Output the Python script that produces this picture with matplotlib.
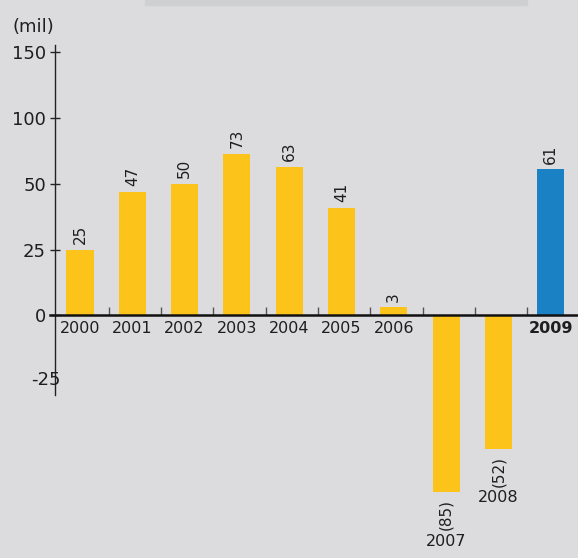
import numpy as np
import matplotlib
matplotlib.use("Agg")
import matplotlib.pyplot as plt
from matplotlib.patches import Rectangle

# ---- data ----
years = ["2000", "2001", "2002", "2003", "2004", "2005", "2006", "2007", "2008", "2009"]
values = [25, 47, 50, 73, 63, 41, 3, -85, -52, 61]
value_labels = ["25", "47", "50", "73", "63", "41", "3", "(85)", "(52)", "61"]
ytick_vals = [150, 100, 50, 25, 0]
ytick_labels = ["150", "100", "50", "25", "0"]
unit_label = "(mil)"

# ---- style ----
BG = "#DCDCDE"
YELLOW = "#FCC31B"
BLUE = "#1A82C4"
TXT = "#1E1E1E"
FONT = "DejaVu Sans"

# non-linear axis used in the original (ticks evenly spaced at 150/100/50/25/0/-25)
_v = np.array([-300, -150, -100, -50, -25, 0, 25, 50, 100, 150, 300], float)
_p = np.array([-461, -263, -197, -131, -65, 0, 65, 131, 197, 263, 461], float)

def fwd(v):
    return np.interp(v, _v, _p)

def inv(p):
    return np.interp(p, _p, _v)

W, H = 578, 558
fig = plt.figure(figsize=(W / 100, H / 100), dpi=100, facecolor=BG)
ax = fig.add_axes([0, 0, 1, 1])
ax.set_facecolor(BG)
ax.set_yscale("function", functions=(fwd, inv))

x0_pix, step = 80.0, 52.3
ax.set_xlim(-x0_pix / step, (W - x0_pix) / step)
zero_pix = 315
ax.set_ylim(inv(-(H - zero_pix)), inv(zero_pix))

# top decorative strip
fig.patches.append(Rectangle((145 / W, 1 - 5 / H), (527 - 145) / W, 5 / H,
                             transform=fig.transFigure, color="#CFD0D2", zorder=0))

x = np.arange(len(years))
colors = [YELLOW] * (len(years) - 1) + [BLUE]
ax.bar(x, values, width=0.52, color=colors, zorder=2)

# value labels
for i, (v, lab) in enumerate(zip(values, value_labels)):
    if v >= 0:
        ax.annotate(lab, (i, v), xytext=(0, 4), textcoords="offset points",
                    rotation=90, ha="center", va="bottom", fontsize=11,
                    color=TXT, family=FONT)
    else:
        ax.annotate(lab, (i, v), xytext=(0, -5), textcoords="offset points",
                    rotation=90, ha="center", va="top", fontsize=11,
                    color=TXT, family=FONT)

# year labels
for i, (v, yr) in enumerate(zip(values, years)):
    bold = (i == len(years) - 1)
    if v >= 0:
        ax.annotate(yr, (i, 0), xytext=(0, -4), textcoords="offset points",
                    ha="center", va="top", fontsize=11.5, color=TXT, family=FONT,
                    fontweight="bold" if bold else "normal")
    else:
        ax.annotate(yr, (i, v), xytext=(0, -30), textcoords="offset points",
                    ha="center", va="top", fontsize=11.5, color=TXT, family=FONT)

# spines
for s in ["top", "right"]:
    ax.spines[s].set_visible(False)
ax.spines["left"].set_position(("data", (55 - x0_pix) / step))
ax.spines["left"].set_bounds(inv(-80), inv(270))
ax.spines["left"].set_linewidth(1.0)
ax.spines["left"].set_color("#222222")
ax.spines["bottom"].set_position(("data", 0))
ax.spines["bottom"].set_bounds((50 - x0_pix) / step, (W - x0_pix) / step)
ax.spines["bottom"].set_linewidth(1.8)
ax.spines["bottom"].set_color("#111111")

ax.set_yticks(ytick_vals)
ax.set_yticklabels(ytick_labels, family=FONT, fontsize=13, color=TXT)
ax.yaxis.set_minor_locator(matplotlib.ticker.NullLocator())
ax.tick_params(axis="y", direction="inout", length=7, width=1, pad=3, colors="#222222",
               labelcolor=TXT)

ax.set_xticks([])
ax.set_xticks(np.arange(len(years) - 1) + 0.55, minor=True)
ax.tick_params(axis="x", which="minor", direction="in", length=6, width=1, color="#555555")

# -25 label drawn overlapping the axis, as in the original
ax.annotate("-25", ((55 - x0_pix) / step, -25), xytext=(4, 0), textcoords="offset points",
            ha="right", va="center", fontsize=13, color=TXT, family=FONT)

# unit label
fig.text(12 / W, 1 - 27 / H, unit_label, ha="left", va="center", fontsize=13,
         color=TXT, family=FONT)

fig.savefig("out.png", dpi=100, facecolor=BG)
